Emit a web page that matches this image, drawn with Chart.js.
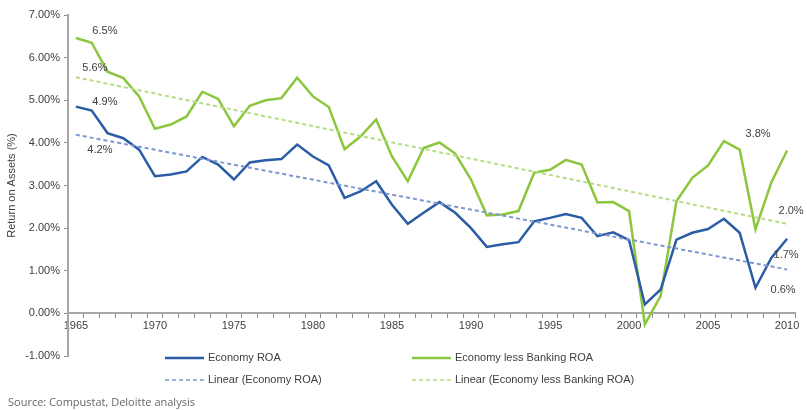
<!DOCTYPE html>
<html>
<head>
<meta charset="utf-8">
<script src="https://cdn.jsdelivr.net/npm/chart.js@4"></script>
<style>
  body { margin: 0; background: #fff; }
  #wrap { position: relative; width: 807px; height: 410px; }
  #source { position: absolute; left: 8px; top: 394px; font: 11px "Open Sans", "Liberation Sans", sans-serif; color: #666; }
</style>
</head>
<body>
<div id="wrap">
  <canvas id="roaChart" width="807" height="410"></canvas>
  <div id="source">Source: Compustat, Deloitte analysis</div>
</div>
<script>
const years = [
    '1965', '1966', '1967', '1968', '1969', '1970', '1971', '1972', '1973', '1974',
    '1975', '1976', '1977', '1978', '1979', '1980', '1981', '1982', '1983', '1984',
    '1985', '1986', '1987', '1988', '1989', '1990', '1991', '1992', '1993', '1994',
    '1995', '1996', '1997', '1998', '1999', '2000', '2001', '2002', '2003', '2004',
    '2005', '2006', '2007', '2008', '2009', '2010'
];

// Economy ROA (%)
const economyROA = [
    4.85, 4.76, 4.23, 4.11, 3.84, 3.22, 3.26, 3.33, 3.67, 3.49,
    3.14, 3.54, 3.59, 3.62, 3.96, 3.68, 3.47, 2.71, 2.86, 3.10,
    2.55, 2.10, 2.36, 2.61, 2.36, 2.00, 1.56, 1.62, 1.67, 2.16,
    2.24, 2.33, 2.24, 1.81, 1.90, 1.72, 0.21, 0.56, 1.73, 1.89,
    1.98, 2.22, 1.89, 0.60, 1.30, 1.75
];

// Economy less Banking ROA (%)
const lessBankingROA = [
    6.46, 6.35, 5.67, 5.52, 5.09, 4.33, 4.43, 4.62, 5.20, 5.03,
    4.39, 4.87, 5.00, 5.05, 5.53, 5.09, 4.84, 3.85, 4.15, 4.55,
    3.68, 3.10, 3.88, 4.01, 3.75, 3.14, 2.30, 2.32, 2.40, 3.30,
    3.37, 3.60, 3.49, 2.60, 2.61, 2.40, -0.26, 0.41, 2.63, 3.18,
    3.47, 4.04, 3.84, 1.97, 3.07, 3.82
];

// linear trend end points
const economyTrend = [{ x: '1965', y: 4.19 }, { x: '2010', y: 1.03 }];
const lessBankingTrend = [{ x: '1965', y: 5.54 }, { x: '2010', y: 2.10 }];

// value labels written on the chart
const valueLabels = [
    { text: '6.5%', year: '1965', value: 6.46, dx: 29, dy: -7 },
    { text: '5.6%', year: '1965', value: 5.54, dx: 19, dy: -9 },
    { text: '4.9%', year: '1965', value: 4.85, dx: 29, dy: -5 },
    { text: '4.2%', year: '1965', value: 4.19, dx: 24, dy: 15 },
    { text: '3.8%', year: '2010', value: 3.82, dx: -29, dy: -17 },
    { text: '2.0%', year: '2010', value: 2.10, dx: 4, dy: -13 },
    { text: '1.7%', year: '2010', value: 1.75, dx: -1, dy: 16 },
    { text: '0.6%', year: '2010', value: 1.03, dx: -4, dy: 20 }
];

const blue = '#2b5ca6';
const green = '#8cc63f';
const blueTrend = '#7d98cf';
const greenTrend = '#b5dc84';
const textColor = '#404040';
const fontFamily = '"Liberation Sans", Arial, sans-serif';

const legendItems = [
    { label: 'Economy ROA', color: blue, dash: [], x: 165, y: 358 },
    { label: 'Economy less Banking ROA', color: green, dash: [], x: 412, y: 358 },
    { label: 'Linear (Economy ROA)', color: blueTrend, dash: [4, 3], x: 165, y: 380 },
    { label: 'Linear (Economy less Banking ROA)', color: greenTrend, dash: [4, 3], x: 412, y: 380 }
];

const extrasPlugin = {
    id: 'extras',
    afterDraw(chart) {
        const ctx = chart.ctx;
        const xs = chart.scales.x;
        const ys = chart.scales.y;
        ctx.save();
        ctx.font = '11px ' + fontFamily;
        ctx.fillStyle = textColor;
        ctx.textAlign = 'center';
        ctx.textBaseline = 'middle';
        valueLabels.forEach(l => {
            const px = xs.getPixelForValue(years.indexOf(l.year));
            const py = ys.getPixelForValue(l.value);
            ctx.fillText(l.text, px + l.dx, py + l.dy);
        });
        // legend
        ctx.textAlign = 'left';
        legendItems.forEach(item => {
            ctx.strokeStyle = item.color;
            ctx.lineWidth = item.dash.length ? 1.5 : 2.5;
            ctx.setLineDash(item.dash);
            ctx.beginPath();
            ctx.moveTo(item.x, item.y);
            ctx.lineTo(item.x + 39, item.y);
            ctx.stroke();
            ctx.setLineDash([]);
            ctx.fillStyle = textColor;
            ctx.fillText(item.label, item.x + 43, item.y);
        });
        ctx.restore();
    }
};

const ctx = document.getElementById('roaChart').getContext('2d');

const roaChart = new Chart(ctx, {
    type: 'line',
    data: {
        labels: years,
        datasets: [
            {
                label: 'Linear (Economy ROA)',
                data: economyTrend,
                borderColor: blueTrend,
                borderWidth: 2,
                borderDash: [4, 3],
                pointRadius: 0
            },
            {
                label: 'Linear (Economy less Banking ROA)',
                data: lessBankingTrend,
                borderColor: greenTrend,
                borderWidth: 2,
                borderDash: [4, 3],
                pointRadius: 0
            },
            {
                label: 'Economy ROA',
                data: economyROA,
                borderColor: blue,
                borderWidth: 2.5,
                pointRadius: 0,
                tension: 0
            },
            {
                label: 'Economy less Banking ROA',
                data: lessBankingROA,
                borderColor: green,
                borderWidth: 2.5,
                pointRadius: 0,
                tension: 0
            }
        ]
    },
    options: {
        responsive: false,
        animation: false,
        layout: { padding: { top: 15, right: 12, bottom: 54, left: 0 } },
        plugins: {
            legend: { display: false },
            tooltip: { enabled: false }
        },
        scales: {
            x: {
                type: 'category',
                position: { y: 0 },
                offset: true,
                grid: { offset: true, drawOnChartArea: false, tickLength: 4, color: '#8c8c8c' },
                border: { color: '#a6a6a6', width: 2 },
                ticks: {
                    autoSkip: false,
                    maxRotation: 0,
                    padding: 2,
                    color: textColor,
                    font: { family: fontFamily, size: 11 },
                    callback: function (value) {
                        const year = this.getLabelForValue(value);
                        return Number(year) % 5 === 0 ? year : '';
                    }
                }
            },
            y: {
                min: -1,
                max: 7,
                afterFit: scale => { scale.width = 68; },
                grid: { drawOnChartArea: false, tickLength: 4, color: '#8c8c8c' },
                border: { color: '#a6a6a6', width: 2 },
                title: {
                    display: true,
                    text: 'Return on Assets (%)',
                    color: textColor,
                    font: { family: fontFamily, size: 11 },
                    padding: { top: 5, bottom: 0 }
                },
                ticks: {
                    stepSize: 1,
                    padding: 4,
                    color: textColor,
                    font: { family: fontFamily, size: 11 },
                    callback: value => value.toFixed(2) + '%'
                }
            }
        }
    },
    plugins: [extrasPlugin]
});
</script>
</body>
</html>
